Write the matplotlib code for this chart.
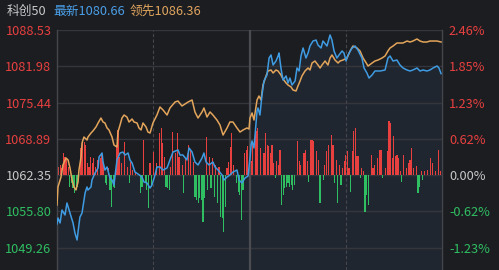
import matplotlib
matplotlib.use("Agg")
import matplotlib.pyplot as plt
import numpy as np

plt.rcParams['font.family'] = ['Noto Sans CJK SC', 'DejaVu Sans']

# ---- data ----
prev_close = 1062.35
price_ticks = [1088.53, 1081.98, 1075.44, 1068.89, 1062.35, 1055.80, 1049.26]
pct_ticks = ["2.46%", "1.85%", "1.23%", "0.62%", "0.00%", "-0.62%", "-1.23%"]

price_t = [0.0, 0.6, 1.9, 3.1, 5.0, 6.2, 8.1, 10.0, 11.2, 12.5, 13.1, 14.3, 15.6, 17.5, 18.7, 19.3, 21.2, 21.8,
           23.7, 25.6, 26.2, 28.1, 28.7, 29.9, 31.2, 33.0, 34.3, 35.5, 37.4, 39.3, 41.1, 42.4, 44.3, 45.5, 46.8,
           48.6, 50.5, 53.0, 54.2, 56.1, 58.0, 59.2, 61.1, 62.3, 64.2, 66.1, 68.6, 70.4, 72.3, 75.4, 76.7, 78.5,
           81.0, 82.3, 84.2, 86.0, 87.9, 90.4, 91.6, 92.9, 94.8, 97.2, 98.5, 100.4, 102.9, 104.1, 106.0, 107.8,
           109.7, 112.2, 113.5, 115.3, 117.2, 119.1, 120.3, 121.0, 121.6, 122.8, 124.7, 125.3, 126.5, 127.8, 129.0,
           130.9, 132.2, 133.4, 134.7, 136.5, 137.8, 138.4, 139.6, 140.9, 142.8, 144.0, 145.2, 146.5, 148.4, 149.6,
           150.9, 152.1, 153.4, 155.2, 156.5, 157.7, 159.6, 161.5, 162.7, 164.6, 165.8, 168.3, 170.2, 171.4, 172.7,
           174.5, 175.8, 177.7, 178.9, 180.2, 181.4, 183.9, 185.8, 187.6, 190.1, 191.4, 193.2, 194.5, 196.4, 198.2,
           201.4, 204.5, 206.3, 207.6, 209.5, 211.9, 213.8, 215.7, 218.2, 220.1, 221.9, 224.4, 226.3, 228.2, 230.6,
           232.5, 234.4, 236.9, 238.1, 239.4]
price_v = [1053.51, 1054.59, 1053.69, 1056.03, 1055.13, 1057.30, 1055.49, 1053.69, 1051.88, 1050.62, 1052.06,
           1054.77, 1055.49, 1059.10, 1060.19, 1059.64, 1060.19, 1061.45, 1062.71, 1063.62, 1065.60, 1066.32,
           1064.70, 1063.25, 1063.80, 1061.81, 1061.45, 1060.55, 1065.06, 1066.32, 1066.50, 1065.96, 1066.32,
           1065.06, 1064.52, 1062.89, 1062.53, 1061.99, 1061.09, 1060.91, 1060.00, 1060.55, 1062.35, 1063.80,
           1063.80, 1063.25, 1063.62, 1065.06, 1066.50, 1066.87, 1065.96, 1065.96, 1065.06, 1067.23, 1066.50,
           1064.70, 1064.16, 1065.42, 1066.32, 1064.70, 1064.16, 1064.70, 1063.80, 1063.25, 1062.35, 1061.45,
           1061.99, 1062.35, 1062.89, 1063.25, 1061.45, 1060.91, 1061.81, 1062.17, 1065.42, 1067.77, 1068.49,
           1067.23, 1073.91, 1074.45, 1073.18, 1076.79, 1079.32, 1080.41, 1083.47, 1084.02, 1082.21, 1082.93,
           1083.84, 1084.38, 1081.67, 1079.50, 1080.23, 1078.96, 1079.86, 1078.60, 1079.32, 1081.67, 1081.13,
           1083.84, 1085.28, 1083.47, 1084.38, 1085.64, 1086.54, 1086.72, 1085.82, 1085.28, 1086.54, 1085.64,
           1087.63, 1086.72, 1084.74, 1083.47, 1084.02, 1084.74, 1084.38, 1082.93, 1084.02, 1085.28, 1085.64,
           1084.92, 1083.47, 1081.67, 1080.77, 1079.86, 1080.41, 1081.13, 1081.13, 1081.31, 1083.47, 1083.84,
           1082.93, 1083.11, 1082.21, 1081.67, 1081.31, 1081.13, 1081.31, 1081.67, 1081.13, 1081.31, 1081.13,
           1081.31, 1081.67, 1082.03, 1081.67, 1080.66]

lead_t = [0.0, 0.6, 2.5, 3.7, 5.6, 6.9, 8.1, 9.4, 10.6, 11.8, 13.1, 13.7, 15.0, 15.6, 16.8, 18.7, 19.3, 21.2,
          22.4, 24.3, 25.6, 27.4, 28.7, 29.9, 31.2, 32.4, 34.3, 35.5, 37.4, 38.0, 39.3, 40.5, 41.8, 43.6, 44.9,
          46.8, 48.0, 49.9, 51.1, 52.4, 53.6, 55.5, 56.7, 58.0, 59.8, 62.3, 64.2, 66.1, 68.6, 70.4, 73.6, 75.4,
          77.9, 79.8, 81.7, 84.2, 86.0, 87.9, 90.4, 91.6, 93.5, 95.4, 97.2, 99.7, 101.6, 103.5, 106.0, 107.8,
          109.7, 112.2, 114.1, 116.0, 118.4, 119.7, 120.3, 121.6, 122.8, 124.7, 125.9, 127.2, 128.4, 130.3, 131.5,
          133.4, 134.7, 136.5, 137.8, 139.6, 140.9, 142.8, 144.0, 145.9, 147.1, 149.0, 150.2, 151.5, 152.7, 154.6,
          156.5, 157.7, 159.0, 160.8, 162.7, 164.0, 165.2, 167.1, 168.9, 170.2, 171.4, 173.3, 175.2, 176.4, 178.3,
          180.8, 182.7, 184.5, 187.0, 188.9, 190.8, 192.0, 193.9, 196.4, 198.2, 200.1, 202.6, 204.5, 206.3, 207.6,
          209.5, 211.9, 213.8, 215.7, 218.2, 220.1, 221.9, 224.4, 226.3, 228.2, 230.6, 232.5, 234.4, 236.9, 239.4]
lead_v = [1056.94, 1060.19, 1061.99, 1064.16, 1065.42, 1065.06, 1063.62, 1061.45, 1060.19, 1059.65, 1061.09,
          1063.25, 1065.60, 1068.13, 1069.21, 1068.67, 1069.21, 1069.93, 1070.30, 1071.02, 1071.74, 1072.64,
          1071.92, 1071.74, 1070.84, 1070.48, 1069.21, 1067.77, 1067.41, 1070.11, 1071.38, 1072.64, 1073.18,
          1072.82, 1071.92, 1072.46, 1071.92, 1071.74, 1070.84, 1070.48, 1071.74, 1071.02, 1070.11, 1069.93,
          1071.74, 1073.18, 1074.63, 1074.09, 1073.18, 1074.45, 1075.53, 1075.71, 1074.81, 1075.17, 1075.53,
          1075.89, 1073.73, 1072.64, 1073.73, 1074.45, 1072.82, 1073.73, 1073.18, 1072.28, 1071.38, 1069.57,
          1070.84, 1071.92, 1071.92, 1070.84, 1070.11, 1070.48, 1070.84, 1070.66, 1072.64, 1073.55, 1072.28,
          1075.89, 1076.61, 1075.89, 1078.60, 1080.23, 1081.13, 1081.31, 1080.77, 1081.31, 1081.13, 1080.41,
          1079.68, 1078.96, 1078.60, 1078.24, 1077.70, 1077.52, 1078.42, 1079.32, 1080.23, 1081.13, 1081.67,
          1081.31, 1082.57, 1082.93, 1082.21, 1081.67, 1082.21, 1082.93, 1082.21, 1083.47, 1084.02, 1083.11,
          1082.57, 1082.93, 1083.11, 1083.47, 1084.74, 1085.64, 1085.28, 1084.74, 1083.47, 1082.93, 1082.03,
          1082.57, 1082.93, 1083.11, 1083.47, 1083.84, 1084.74, 1085.28, 1085.64, 1086.18, 1086.18, 1086.18,
          1086.54, 1086.36, 1086.54, 1086.91, 1086.54, 1086.36, 1086.36, 1086.54, 1086.54, 1086.54, 1086.36]

bar_t = [1, 2, 3, 4, 5, 6, 7, 8, 9, 10, 11, 12, 13, 15, 16, 17, 18, 19, 20, 21, 22, 23, 24, 25, 27, 28, 29, 30,
         31, 32, 33, 34, 35, 36, 37, 38, 39, 40, 42, 44, 45, 46, 47, 49, 52, 53, 54, 55, 56, 57, 58, 59, 60, 62,
         64, 65, 66, 67, 68, 69, 70, 71, 72, 74, 75, 76, 78, 79, 80, 82, 83, 85, 86, 87, 88, 89, 90, 91, 92, 93,
         94, 95, 96, 97, 98, 99, 100, 101, 102, 103, 104, 105, 106, 107, 108, 109, 110, 112, 113, 114, 115, 116,
         117, 118, 119, 121, 122, 124, 125, 127, 129, 130, 131, 132, 133, 134, 135, 136, 137, 138, 139, 140, 141,
         142, 143, 144, 145, 146, 147, 148, 150, 151, 152, 154, 155, 156, 157, 158, 159, 160, 162, 163, 164, 166,
         167, 168, 169, 171, 172, 173, 174, 175, 176, 177, 178, 179, 180, 181, 182, 183, 184, 185, 186, 187, 188,
         189, 190, 191, 192, 193, 194, 196, 197, 198, 200, 201, 202, 203, 205, 206, 207, 208, 209, 210, 211, 212,
         213, 214, 215, 216, 218, 219, 220, 221, 222, 224, 225, 226, 227, 228, 229, 231, 233, 234, 236, 238, 239]
bar_v = [1.44, 1.81, 1.26, 3.97, 3.25, 3.07, 1.44, -2.17, -1.44, -2.35, -3.25, -2.71, -2.17, 4.87, 6.32, 5.96,
         5.42, 2.17, 1.44, 3.25, 2.17, 3.07, 1.44, 2.71, 3.07, 3.61, 2.35, -1.44, -1.81, 1.26, -2.71, -5.78,
         -2.17, -2.35, 5.42, 8.12, 3.25, 2.17, 5.96, 1.44, -1.44, 2.35, 0.90, 0.54, -3.25, -2.17, 6.32, -1.44,
         -2.71, -5.96, 2.17, -2.17, 4.15, 2.17, 7.58, 8.49, 5.78, 3.25, -2.17, -2.35, -2.71, 1.44, 7.76, 3.97,
         7.58, 3.25, 1.81, -3.25, 3.07, 5.42, 4.51, 2.35, -3.97, -4.51, -5.05, -4.15, -4.51, -8.49, -4.15,
         6.86, -2.71, 3.25, -2.35, 3.07, -3.97, 1.81, -5.05, 1.44, -7.58, -7.76, -10.29, -5.78, 1.26, 2.35,
         5.05, 7.58, 1.81, -1.44, -3.07, -3.61, -8.12, -2.71, 3.97, 4.51, 5.24, 2.53, 5.78, 7.94, 8.49, 4.87,
         3.97, 7.58, 5.42, 5.24, 3.97, 5.42, 2.17, -0.54, 2.53, 1.81, 4.51, -5.42, -3.61, -2.35, -2.17, -1.44,
         -2.17, -1.81, -2.71, -1.81, 6.14, 2.53, 1.81, 3.97, 4.51, 2.53, -1.26, 6.32, 6.32, 6.14, 4.33, 2.71,
         -5.05, -0.90, 1.81, 4.33, 5.42, 7.22, 5.42, -1.44, 2.71, -5.05, 1.81, -1.81, 1.26, 2.53, 3.61, 4.33,
         1.26, -3.07, 4.33, 7.94, 8.49, 3.43, 3.43, -0.54, 1.26, 0.72, -6.68, -3.61, -5.42, 3.61, 1.26, 1.81,
         3.07, 4.51, 4.51, -0.54, 1.26, 4.33, 9.75, 9.39, 3.07, 7.04, 3.43, 3.61, 3.07, 0.72, -1.26, 3.61, 1.26,
         2.17, 2.71, 4.87, 1.26, 1.62, -3.25, -2.17, 0.72, -0.90, 0.72, 0.90, 3.07, 2.17, 0.72, 4.51, 0.72]

# ---- style ----
BG = '#1c1d21'
GRID = '#35363b'
RED = '#e8403f'
GREEN = '#2fbf62'
GRAYTXT = '#c8c8c8'
BLUE = '#3f9be2'
ORANGE = '#e3a55b'

W, H = 499, 270
fig = plt.figure(figsize=(W / 100, H / 100), dpi=100, facecolor=BG)
ax = fig.add_axes([57 / W, 0, (442 - 57) / W, 1 - 30 / H])
ax.set_facecolor(BG)

ymin = 1045.20
ymax = 1088.53
ax.set_xlim(0, 240)
ax.set_ylim(ymin, ymax)

# grid
for y in price_ticks:
    ax.axhline(y, color=GRID, lw=1.0, zorder=1)
for xv in (60, 180):
    ax.axvline(xv, color='#45464b', lw=0.8, ls=(0, (3, 2)), zorder=1)
ax.axvline(120, color='#4a4c52', lw=1.6, zorder=1)

# area under price line
ax.fill_between(price_t, price_v, ymin, color='#222a36', alpha=0.75, lw=0, zorder=0.5)

# bars
bar_t_a = np.array(bar_t)
bar_v_a = np.array(bar_v)
colors = [RED if v > 0 else GREEN for v in bar_v_a]
ax.bar(bar_t_a, bar_v_a, bottom=prev_close, width=0.75, color=colors, lw=0, zorder=2,
       antialiased=False)

# lines
ax.plot(lead_t, lead_v, color=ORANGE, lw=1.1, zorder=3)
ax.plot(price_t, price_v, color=BLUE, lw=1.1, zorder=4)

# spines
for s in ('top', 'bottom'):
    ax.spines[s].set_visible(False)
for s in ('left', 'right'):
    ax.spines[s].set_color('#44464b')
    ax.spines[s].set_linewidth(1.0)

ax.set_xticks([])
tick_colors = [RED, RED, RED, RED, GRAYTXT, GREEN, GREEN]
ax.set_yticks(price_ticks)
ax.set_yticklabels([f"{v:.2f}" for v in price_ticks])
ax.tick_params(axis='y', length=0, pad=4, labelsize=9.2)
for lbl, c in zip(ax.get_yticklabels(), tick_colors):
    lbl.set_color(c)

ax2 = ax.twinx()
ax2.set_ylim(ymin, ymax)
ax2.set_yticks(price_ticks)
ax2.set_yticklabels(pct_ticks)
ax2.tick_params(axis='y', length=0, pad=5, labelsize=9.2)
for lbl, c in zip(ax2.get_yticklabels(), tick_colors):
    lbl.set_color(c)
for s in ax2.spines.values():
    s.set_visible(False)

# header
fig.text(7 / W, 1 - 11 / H, "科创50", color=GRAYTXT, fontsize=9.2, va='center', ha='left')
fig.text(53 / W, 1 - 11 / H, "最新1080.66", color='#4a9fe8', fontsize=9.2, va='center', ha='left')
fig.text(130 / W, 1 - 11 / H, "领先1086.36", color='#e0a55e', fontsize=9.2, va='center', ha='left')

fig.savefig("out.png", dpi=100, facecolor=BG)
